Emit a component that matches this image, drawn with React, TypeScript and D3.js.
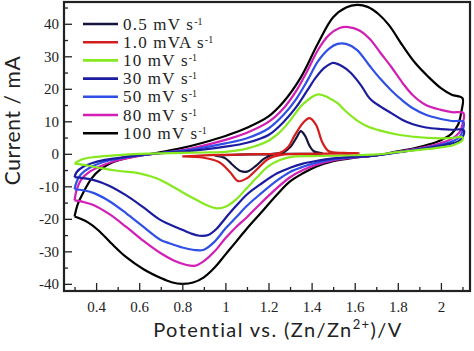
import React, { useEffect, useRef } from "react";
import * as d3 from "d3";

type Pt = [number, number];

// scan rates (legend order) and colours
const labels = ["0.5 mV s", "1.0 mVA s", "10 mV s", "30 mV s", "50 mV s", "80 mV s", "100 mV s"];
const colors = ["#14143c", "#d41e1e", "#86e81e", "#1c1ca0", "#2f4fe6", "#d21eb4", "#000000"];

const xTicks = [0.4, 0.6, 0.8, 1, 1.2, 1.4, 1.6, 1.8, 2];
const yTicks = [-40, -30, -20, -10, 0, 10, 20, 30, 40];

// potential (V), current (mA), each loop closed
const cv05: Pt[] = [
  [0.95, -0.5], [1.1, -0.2], [1.22, 0], [1.27, 0.5], [1.3, 2], [1.33, 5], [1.35, 7],
  [1.37, 5.5], [1.39, 2.5], [1.41, 0.8], [1.45, 0.1],
  [1.3, 0], [1.22, -0.3], [1.18, -1.5], [1.14, -3.8], [1.1, -5.5], [1.07, -5.3],
  [1.03, -3.2], [1.0, -1.4], [0.95, -0.5],
];
const cv1: Pt[] = [
  [0.8, -0.8], [0.9, -0.5], [1.0, -0.3], [1.15, -0.1], [1.25, 0.2], [1.29, 2], [1.32, 5.5],
  [1.36, 9.5], [1.39, 11], [1.42, 9], [1.45, 3.5], [1.48, 0.8], [1.55, 0.3], [1.62, 0.2],
  [1.4, 0], [1.26, -0.3], [1.2, -1.5], [1.15, -4.5], [1.1, -7.5], [1.06, -8.4],
  [1.02, -5.5], [0.97, -2.5], [0.9, -1.2], [0.8, -0.8],
];
const cv10: Pt[] = [
  [0.3, -3], [0.33, -1.8], [0.39, -1], [0.48, -0.5], [0.6, 0], [0.75, 0.2], [0.9, 0.4],
  [1.0, 0.6], [1.1, 1.6], [1.2, 4], [1.25, 6.5], [1.3, 10.2], [1.36, 15.3], [1.43, 18.3],
  [1.48, 17.2], [1.52, 15.6], [1.56, 13], [1.61, 10.3], [1.66, 8.4], [1.71, 7.3],
  [1.81, 5.8], [1.9, 5.1], [1.97, 4.8], [2.04, 4.8], [2.1, 5.1],
  [2.1, 4.2], [2.08, 3.3], [2.05, 2.5], [2.0, 2], [1.9, 1.2], [1.8, 0.5], [1.7, -0.2],
  [1.55, -0.5], [1.4, -0.7], [1.3, -1], [1.25, -2], [1.2, -3.8], [1.15, -7], [1.1, -10.5],
  [1.05, -14], [1.0, -16.3], [0.96, -16.8], [0.92, -16], [0.86, -14], [0.8, -11.8],
  [0.74, -9.5], [0.68, -7.5], [0.6, -6], [0.5, -5.2], [0.42, -4.4], [0.36, -3.6], [0.3, -3],
];
const cv30: Pt[] = [
  [0.3, -7.2], [0.31, -5.6], [0.34, -4], [0.38, -2.9], [0.43, -2], [0.5, -1.3], [0.6, -0.4],
  [0.72, 0.3], [0.85, 1], [1.0, 2.2], [1.1, 3.4], [1.2, 5.8], [1.27, 9.8], [1.33, 14.5],
  [1.38, 19.5], [1.42, 23.5], [1.46, 26.5], [1.5, 28], [1.54, 27], [1.58, 25], [1.63, 21],
  [1.67, 17], [1.72, 14.5], [1.77, 12.5], [1.82, 10.5], [1.87, 9.1], [1.93, 8.1],
  [2.0, 7.6], [2.05, 7.4], [2.105, 7.3],
  [2.1, 5], [2.08, 3.8], [2.05, 3.2], [2.0, 2.5], [1.95, 1.9], [1.88, 1.2], [1.8, 0.4],
  [1.7, -0.5], [1.6, -0.9], [1.5, -1.4], [1.42, -2.2], [1.36, -3], [1.3, -4.3], [1.24, -6],
  [1.16, -9.5], [1.1, -12.5], [1.05, -16], [1.0, -19.8], [0.96, -23], [0.92, -25],
  [0.88, -25.2], [0.84, -24.5], [0.78, -22.8], [0.7, -20.4], [0.62, -16.5], [0.54, -12.8],
  [0.46, -9.8], [0.39, -8.1], [0.34, -7.5], [0.3, -7.2],
];
const cv50: Pt[] = [
  [0.3, -10.9], [0.31, -8.5], [0.33, -6.3], [0.37, -4.3], [0.43, -2.6], [0.5, -1.5],
  [0.6, -0.5], [0.72, 0.4], [0.85, 1.4], [1.0, 3.2], [1.1, 4.8], [1.2, 7.8], [1.27, 12],
  [1.33, 17], [1.38, 22.5], [1.43, 28.5], [1.48, 32.3], [1.52, 33.8], [1.56, 33.8],
  [1.61, 32], [1.67, 27], [1.72, 23], [1.77, 19.5], [1.82, 16.5], [1.87, 14], [1.93, 12],
  [2.0, 10.7], [2.05, 10.1], [2.105, 9.8],
  [2.1, 7], [2.085, 5], [2.05, 3.8], [2.0, 2.8], [1.95, 2.1], [1.88, 1.3], [1.8, 0.5],
  [1.7, -0.5], [1.6, -1], [1.5, -1.7], [1.42, -2.8], [1.36, -4], [1.3, -5.6], [1.24, -8.2],
  [1.16, -12.5], [1.1, -16], [1.05, -19.5], [1.0, -23], [0.95, -27], [0.9, -29.5],
  [0.86, -29.6], [0.8, -28.8], [0.74, -27.5], [0.7, -26.5], [0.62, -22.5], [0.54, -18.3],
  [0.46, -14.5], [0.39, -12.1], [0.34, -11.2], [0.3, -10.9],
];
const cv80: Pt[] = [
  [0.3, -14.3], [0.31, -11], [0.33, -8], [0.37, -5.5], [0.42, -3.8], [0.47, -2.6],
  [0.55, -1.3], [0.62, -0.4], [0.72, 0.4], [0.85, 1.8], [1.0, 4.3], [1.1, 6.5], [1.2, 9.8],
  [1.27, 14], [1.33, 19.5], [1.38, 25.5], [1.43, 32], [1.48, 36.5], [1.53, 38.7],
  [1.57, 39], [1.62, 38], [1.67, 35.3], [1.72, 31], [1.77, 26.7], [1.82, 22], [1.87, 18],
  [1.93, 15], [2.0, 13.5], [2.05, 12.8], [2.105, 12.5],
  [2.1, 9], [2.085, 6.5], [2.05, 4.6], [2.0, 3.3], [1.95, 2.4], [1.88, 1.5], [1.8, 0.6],
  [1.7, -0.5], [1.6, -1.1], [1.5, -2], [1.42, -3.4], [1.36, -5], [1.3, -7.2], [1.24, -10.5],
  [1.16, -15.5], [1.1, -19.5], [1.05, -22.5], [1.0, -26], [0.95, -30], [0.9, -33],
  [0.86, -34.4], [0.82, -34.2], [0.76, -32.8], [0.7, -30.6], [0.62, -26.8], [0.54, -22.5],
  [0.46, -18.5], [0.39, -15.8], [0.34, -14.8], [0.3, -14.3],
];
const cv100: Pt[] = [
  [0.3, -19.3], [0.315, -15.5], [0.34, -12], [0.38, -7.5], [0.42, -4.8], [0.48, -2.5],
  [0.56, -1], [0.66, 0], [0.78, 1.5], [0.9, 3.5], [1.0, 5.5], [1.1, 8], [1.2, 11.5],
  [1.27, 16], [1.35, 23.5], [1.43, 34], [1.5, 42], [1.56, 45], [1.61, 45.8], [1.66, 45.2],
  [1.71, 43], [1.76, 39.5], [1.82, 33.5], [1.88, 28], [1.94, 23.8], [2.0, 20.2],
  [2.05, 18.2], [2.1, 17.1],
  [2.095, 13], [2.08, 9], [2.05, 6.2], [2.0, 4.2], [1.95, 3], [1.88, 1.8], [1.8, 0.8],
  [1.7, -0.5], [1.6, -1.2], [1.5, -2.3], [1.42, -4], [1.36, -6], [1.3, -8.5], [1.24, -12.5],
  [1.16, -18.5], [1.1, -23], [1.05, -27], [1.0, -31], [0.95, -35], [0.9, -38],
  [0.85, -39.6], [0.8, -40], [0.75, -39.5], [0.7, -38.2], [0.62, -35.5], [0.54, -31.8],
  [0.47, -27.5], [0.41, -23.5], [0.36, -21], [0.3, -19.3],
];

const loops = [cv05, cv1, cv10, cv30, cv50, cv80, cv100];
const drawOrder = [6, 5, 4, 3, 2, 0, 1];

const App = () => {
  const ref = useRef<SVGSVGElement>(null);

  useEffect(() => {
    const svg = d3.select(ref.current);
    svg.selectAll("*").remove();

    const left = 64, right = 470, top = 2, bottom = 291;
    const x = d3.scaleLinear().domain([0.251, 2.135]).range([left, right]);
    const y = d3.scaleLinear().domain([-42.2, 46.7]).range([bottom, top]);

    const line = d3
      .line<Pt>()
      .x((d) => x(d[0]))
      .y((d) => y(d[1]))
      .curve(d3.curveCatmullRom.alpha(0.5));

    // curves
    drawOrder.forEach((i) => {
      svg
        .append("path")
        .attr("d", line(loops[i]))
        .attr("fill", "none")
        .attr("stroke", colors[i])
        .attr("stroke-width", 2.2)
        .attr("stroke-linejoin", "round");
    });

    // minor ticks
    const xMinor = d3.range(0.3, 2.15, 0.2);
    const yMinor = d3.range(-35, 46, 10);
    svg
      .append("g")
      .attr("transform", `translate(0,${bottom})`)
      .call(d3.axisBottom(x).tickValues(xMinor).tickSize(-4).tickFormat(() => ""))
      .call((g) => g.select(".domain").remove());
    svg
      .append("g")
      .attr("transform", `translate(${left},0)`)
      .call(d3.axisLeft(y).tickValues(yMinor).tickSize(-4).tickFormat(() => ""))
      .call((g) => g.select(".domain").remove());

    // major ticks + labels
    const xAxis = svg
      .append("g")
      .attr("transform", `translate(0,${bottom})`)
      .call(d3.axisBottom(x).tickValues(xTicks).tickSize(-8).tickPadding(10).tickFormat((d) => String(d)));
    const yAxis = svg
      .append("g")
      .attr("transform", `translate(${left},0)`)
      .call(d3.axisLeft(y).tickValues(yTicks).tickSize(-8).tickPadding(5).tickFormat((d) => String(d)));
    [xAxis, yAxis].forEach((g) => {
      g.select(".domain").remove();
      g.selectAll("text")
        .attr("font-family", "'Liberation Serif', serif")
        .attr("font-size", 15)
        .attr("fill", "#222");
    });
    svg.selectAll(".tick line").attr("stroke", "#222").attr("stroke-width", 1.3);

    // frame
    svg
      .append("rect")
      .attr("x", left)
      .attr("y", top)
      .attr("width", right - left)
      .attr("height", bottom - top)
      .attr("fill", "none")
      .attr("stroke", "#222")
      .attr("stroke-width", 2.2);

    // legend
    const legend = svg.append("g");
    labels.forEach((lab, i) => {
      const ly = 24 + i * 18.2;
      legend
        .append("line")
        .attr("x1", 83)
        .attr("x2", 118)
        .attr("y1", ly)
        .attr("y2", ly)
        .attr("stroke", colors[i])
        .attr("stroke-width", 2.6);
      const t = legend
        .append("text")
        .attr("x", 123)
        .attr("y", ly + 5.5)
        .attr("font-family", "'Liberation Serif', serif")
        .attr("font-size", 17)
        .attr("letter-spacing", 1.2)
        .attr("fill", "#222");
      t.append("tspan").text(lab);
      t.append("tspan").attr("dy", -5).attr("font-size", 10).attr("letter-spacing", 0).text("-1");
    });

    // axis titles
    svg
      .append("text")
      .attr("transform", `translate(20,${(top + bottom) / 2 - 26}) rotate(-90)`)
      .attr("text-anchor", "middle")
      .attr("font-family", "Lato, sans-serif")
      .attr("font-size", 21)
      .attr("letter-spacing", 0.6)
      .attr("fill", "#222")
      .text("Current / mA");

    const xt = svg
      .append("text")
      .attr("x", 278)
      .attr("y", 337)
      .attr("text-anchor", "middle")
      .attr("font-family", "Lato, sans-serif")
      .attr("font-size", 20)
      .attr("letter-spacing", 1.4)
      .attr("fill", "#222");
    xt.append("tspan").text("Potential vs. (Zn/Zn");
    xt.append("tspan").attr("dy", -8).attr("font-size", 13).text("2+");
    xt.append("tspan").attr("dy", 8).text(")/V");
  }, []);

  return (
    <div style={{ position: "fixed", left: 0, top: 0 }}>
      <svg ref={ref} width={474} height={351} style={{ display: "block", background: "#fff" }} />
    </div>
  );
};

export default App;
